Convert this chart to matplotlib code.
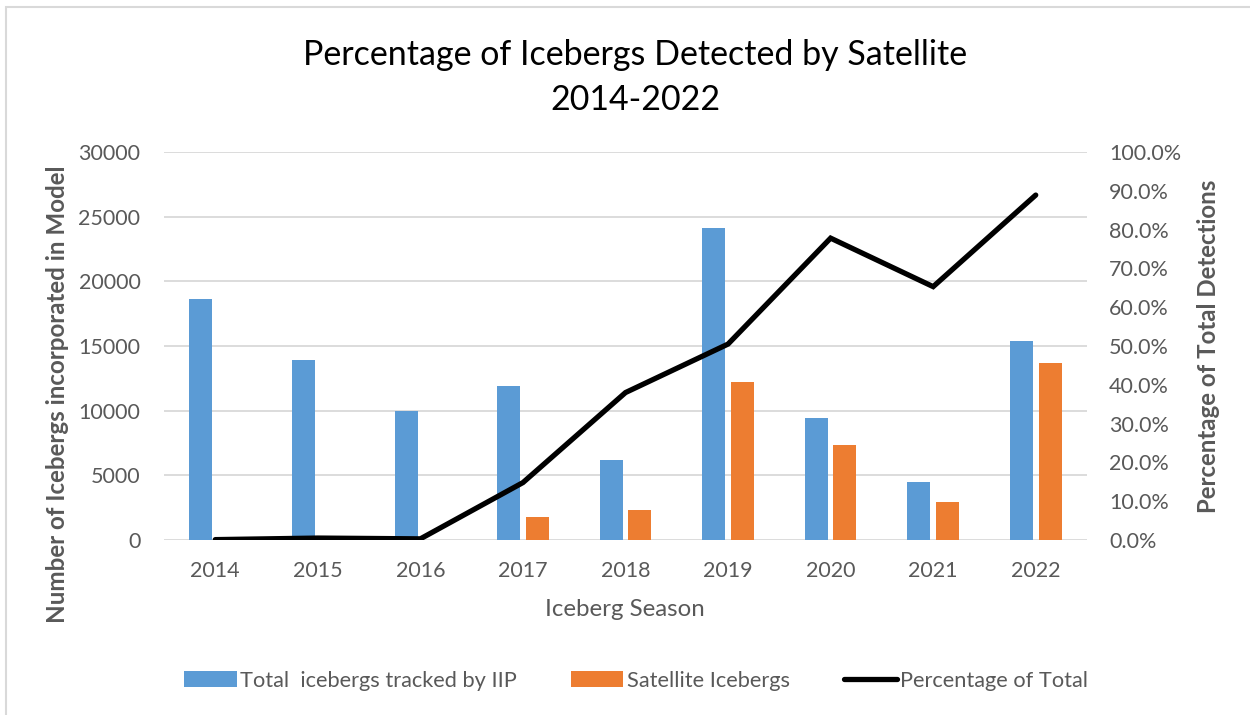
import matplotlib
matplotlib.use("Agg")
import matplotlib.pyplot as plt
import numpy as np
from matplotlib.patches import Rectangle, Patch
from matplotlib.lines import Line2D

seasons = ["2014", "2015", "2016", "2017", "2018", "2019", "2020", "2021", "2022"]
total_iip = [18600, 13900, 9950, 11900, 6200, 24150, 9450, 4450, 15400]
satellite = [0, 0, 0, 1750, 2300, 12200, 7350, 2900, 13700]
pct_total = [0.001, 0.005, 0.003, 0.148, 0.38, 0.505, 0.778, 0.653, 0.889]

FONT = "Lato"
plt.rcParams['font.family'] = [FONT, 'DejaVu Sans']

W, H = 1250, 715
fig = plt.figure(figsize=(W / 100, H / 100), dpi=100)

# chart border
fig.patches.append(Rectangle((6 / W, -0.1), 1.2, 1 - 7 / H + 0.1, transform=fig.transFigure,
                             fill=False, edgecolor="#d9d9d9", linewidth=1.5))

x0, x1 = 164, 1087
y0, y1 = 540, 152
ax = fig.add_axes([x0 / W, 1 - y0 / H, (x1 - x0) / W, (y0 - y1) / H])
ax2 = ax.twinx()

x = np.arange(len(seasons))
bw = 0.224
off = 0.14
blue = "#5b9bd5"
orange = "#ed7d31"
ax.bar(x - off, total_iip, bw, color=blue, zorder=3)
ax.bar(x + off, satellite, bw, color=orange, zorder=3)
ax.set_xlim(-0.5, len(seasons) - 0.5)
ax.set_ylim(0, 30000)
ax.set_yticks(np.arange(0, 30001, 5000))
ax.grid(axis="y", color="#d9d9d9", linewidth=1.3, zorder=0)
ax.set_axisbelow(True)
for s in ax.spines.values():
    s.set_visible(False)
for s in ax2.spines.values():
    s.set_visible(False)
TICK = 15.5
ax.tick_params(axis="both", length=0, colors="#595959", labelsize=TICK)
ax.tick_params(axis="y", pad=17)
ax.tick_params(axis="x", pad=15)
ax.set_xticks(x)
ax.set_xticklabels(seasons)

ax2.plot(x, pct_total, color="black", linewidth=3.8, solid_capstyle="round",
         solid_joinstyle="miter", zorder=5)
ax2.set_ylim(0, 1.0)
ax2.set_yticks(np.linspace(0, 1, 11))
ax2.set_yticklabels([f"{v*100:.1f}%" for v in np.linspace(0, 1, 11)])
ax2.tick_params(axis="y", length=0, colors="#595959", labelsize=TICK, pad=16)

fig.text(635 / W, 1 - 55 / H, "Percentage of Icebergs Detected by Satellite", ha="center",
         va="center", fontsize=24.5, color="black")
fig.text(635 / W, 1 - 100 / H, "2014-2022", ha="center", va="center", fontsize=24.5, color="black")

fig.text(58 / W, 1 - 394 / H, "Number of Icebergs incorporated in Model", rotation=90,
         ha="center", va="center", fontsize=17.4, fontweight="bold", color="#595959")
fig.text(1208 / W, 1 - 346 / H, "Percentage of Total Detections", rotation=90,
         ha="center", va="center", fontsize=17.3, fontweight="bold", color="#595959")
fig.text(625 / W, 1 - 609 / H, "Iceberg Season", ha="center", va="center", fontsize=17.3,
         color="#595959")

handles = [Patch(facecolor=blue, edgecolor="none"),
           Patch(facecolor=orange, edgecolor="none"),
           Line2D([0], [0], color="black", linewidth=3.8, solid_capstyle="round")]
labels = ["Total  icebergs tracked by IIP", "Satellite Icebergs", "Percentage of Total"]
fig.legend(handles, labels, loc="center", bbox_to_anchor=(636 / W, 1 - 681 / H), ncol=3,
           frameon=False, fontsize=15.7, labelcolor="#595959", handlelength=2.4,
           handleheight=0.75, handletextpad=0.15, columnspacing=2.5)

fig.savefig("out.png", dpi=100)
